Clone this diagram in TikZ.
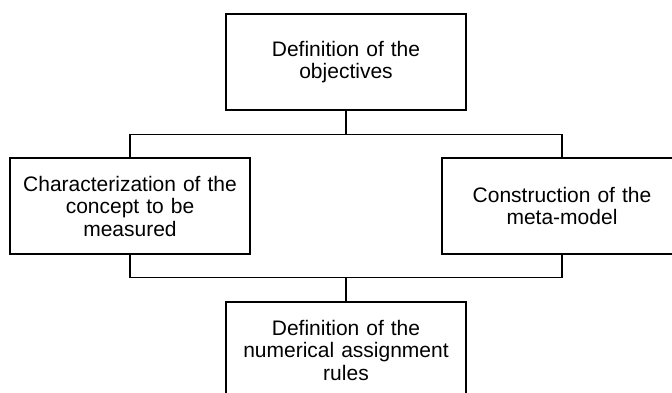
\documentclass[tikz,border=0pt]{standalone}
\usepackage{fontspec}
\setmainfont{Liberation Sans}
\usepackage{tikz}
\usetikzlibrary{calc}

\begin{document}
\begin{tikzpicture}[x=1pt,y=1pt,
		box/.style={draw,line width=1.3pt,minimum width=240pt,minimum height=96pt,
			inner sep=0pt,text width=232pt,align=center,
			font=\fontsize{21}{22.5}\selectfont}]
				\clip (0,0) rectangle (672,392);
				\fill[white] (0,0) rectangle (672,392);
				
				% boxes
				\node[box] (objectives) at (346,330) {Definition of the\\objectives};
				\node[box] (concept) at (130,186) {Characterization of the\\concept to be\\measured};
				\node[box] (metamodel) at (562,186) {Construction of the\\meta-model};
				\node[box] (rules) at (346,42) {Definition of the\\numerical assignment\\rules};
				
				% junctions
				\coordinate (upper) at ($(objectives.south)+(0,-24)$);
				\coordinate (lower) at ($(rules.north)+(0,24)$);
				
				\draw[line width=1.3pt] (objectives.south) -- (upper);
				\draw[line width=1.3pt] (concept.north) |- (upper) -| (metamodel.north);
				\draw[line width=1.3pt] (concept.south) |- (lower) -| (metamodel.south);
				\draw[line width=1.3pt] (lower) -- (rules.north);
			\end{tikzpicture}
\end{document}
